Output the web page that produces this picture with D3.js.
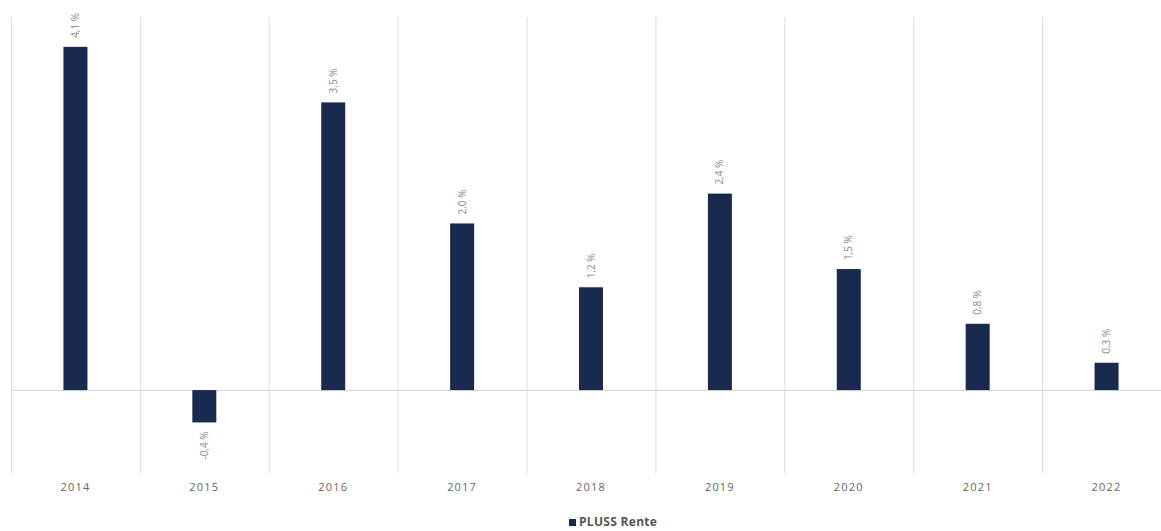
<!DOCTYPE html>
<html><head><meta charset="utf-8">
<script src="https://cdn.jsdelivr.net/npm/d3@7"></script>
<style>body{margin:0;background:#fff;}svg{display:block;font-family:"Open Sans",sans-serif;}</style>
</head><body><svg id="c" width="1161" height="531"></svg>
<script>
const categories = ["2014","2015","2016","2017","2018","2019","2020","2021","2022"];
const values = [4.14, -0.39, 3.47, 2.01, 1.24, 2.37, 1.46, 0.80, 0.33];
const seriesName = "PLUSS Rente";
const yDomain = [-1, 4.5];

const svg = d3.select("#c");
const x = d3.scaleBand().domain(categories).range([11, 1171]).paddingInner(0).paddingOuter(0);
const y = d3.scaleLinear().domain(yDomain).range([473, 17]);
const barW = 24;
const color = "#1a2a4e";

// vertical grid lines at band boundaries
svg.append("g").selectAll("line").data(categories).join("line")
  .attr("x1", d => x(d)+0.5).attr("x2", d => x(d)+0.5)
  .attr("y1", y(yDomain[1])).attr("y2", y(yDomain[0]))
  .attr("stroke", "#dcdcdc").attr("stroke-width", 1);

// zero line
svg.append("line").attr("x1", 11).attr("x2", 1161)
  .attr("y1", Math.round(y(0))+0.5).attr("y2", Math.round(y(0))+0.5)
  .attr("stroke", "#d8d8d8").attr("stroke-width", 1);

// bars
svg.append("g").selectAll("rect").data(values).join("rect")
  .attr("x", (d,i) => x(categories[i]) + x.bandwidth()/2 - barW/2)
  .attr("width", barW)
  .attr("y", d => y(Math.max(0,d)))
  .attr("height", d => Math.abs(y(d)-y(0)))
  .attr("fill", color);

// value labels
const fmt = v => v.toFixed(1).replace(".", ",") + " %";
svg.append("g").selectAll("text").data(values).join("text")
  .attr("transform", (d,i) => {
    const cx = x(categories[i]) + x.bandwidth()/2 + 3.5;
    const yy = d >= 0 ? y(d) - 9 : y(d) + 9;
    return `translate(${cx},${yy}) rotate(-90)`;
  })
  .attr("text-anchor", d => d >= 0 ? "start" : "end")
  .attr("font-size", 10).attr("fill", "#8a8a8a")
  .text(d => fmt(d));

// category labels
svg.append("g").selectAll("text").data(categories).join("text")
  .attr("x", d => x(d) + x.bandwidth()/2)
  .attr("y", 491)
  .attr("text-anchor", "middle")
  .attr("font-size", 11).attr("fill", "#666").attr("letter-spacing", "1.2px")
  .text(d => d);

// legend
const lg = svg.append("g");
lg.append("rect").attr("x", 569).attr("y", 519).attr("width", 7).attr("height", 7).attr("fill", color);
lg.append("text").attr("x", 579).attr("y", 526).attr("font-size", 12).attr("font-weight", "bold")
  .attr("fill", "#555").attr("letter-spacing", "0.3px").text(seriesName);
</script></body></html>
